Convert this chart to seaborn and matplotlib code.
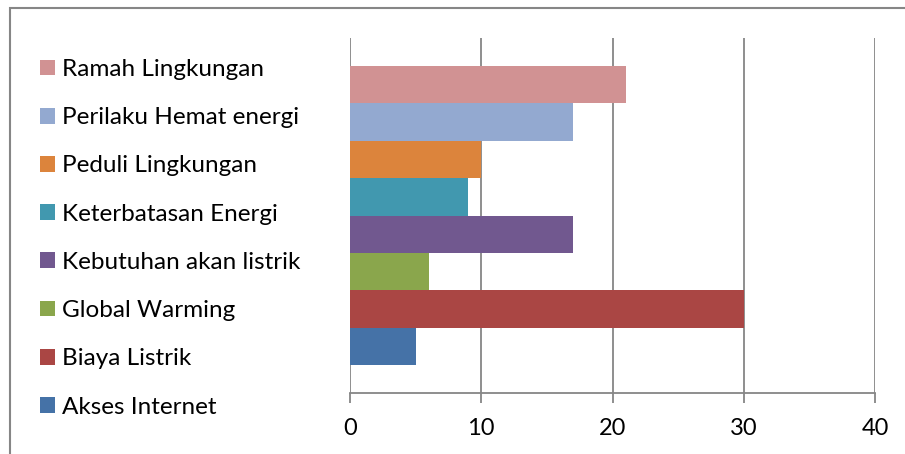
import pandas as pd
import matplotlib.pyplot as plt
import seaborn as sns
from matplotlib.patches import Rectangle

categories = [
    "Ramah Lingkungan",
    "Perilaku Hemat energi",
    "Peduli Lingkungan",
    "Keterbatasan Energi",
    "Kebutuhan akan listrik",
    "Global Warming",
    "Biaya Listrik",
    "Akses Internet",
]
values = [21, 17, 10, 9, 17, 6, 30, 5]
colors = ["#D19293", "#93A9D0", "#DC843C", "#4198AF",
          "#71588F", "#8AA64C", "#AA4644", "#4572A7"]
xticks = [0, 10, 20, 30, 40]

df = pd.DataFrame({"kategori": categories, "nilai": values, "grup": ""})

sns.set_style("white")
plt.rcParams["font.family"] = ["Lato", "DejaVu Sans"]
plt.rcParams["text.color"] = "black"
plt.rcParams["xtick.labelcolor"] = "black"

fig = plt.figure(figsize=(9.05, 4.54), dpi=100)
ax = fig.add_axes([350 / 905, 61 / 454, 525 / 905, 355 / 454])

sns.barplot(data=df, x="nilai", y="grup", hue="kategori", hue_order=categories,
            palette=colors, orient="h", width=0.842, dodge=True,
            saturation=1, edgecolor="none", ax=ax, zorder=3)

grid = "#868686"
ax.set_xlim(0, 40)
ax.set_xticks(xticks)
ax.set_xticklabels([str(t) for t in xticks], fontsize=17)
ax.set_xlabel("")
ax.set_ylabel("")
ax.set_yticks([])
for t in xticks:
    ax.axvline(t, color=grid, lw=1.3, zorder=1)
for s in ["top", "right", "left"]:
    ax.spines[s].set_visible(False)
ax.spines["bottom"].set_color(grid)
ax.spines["bottom"].set_linewidth(1.3)
ax.tick_params(axis="x", bottom=True, length=7, width=1.3, color=grid,
               direction="out", pad=11)

handles, labels = ax.get_legend_handles_labels()
ax.legend(handles, labels, loc="upper left", bbox_to_anchor=(40 / 905, 1 - 59 / 454),
          bbox_transform=fig.transFigure, frameon=False, fontsize=17.5,
          handlelength=0.62, handleheight=0.62, handletextpad=0.3,
          labelspacing=1.12, borderaxespad=0, borderpad=0)

fig.patches.append(Rectangle((10 / 905, -0.1), 1.2, 1 - 8 / 454 + 0.1,
                             transform=fig.transFigure, fill=False,
                             edgecolor=grid, lw=1.5))

fig.savefig("out.png", dpi=100)
